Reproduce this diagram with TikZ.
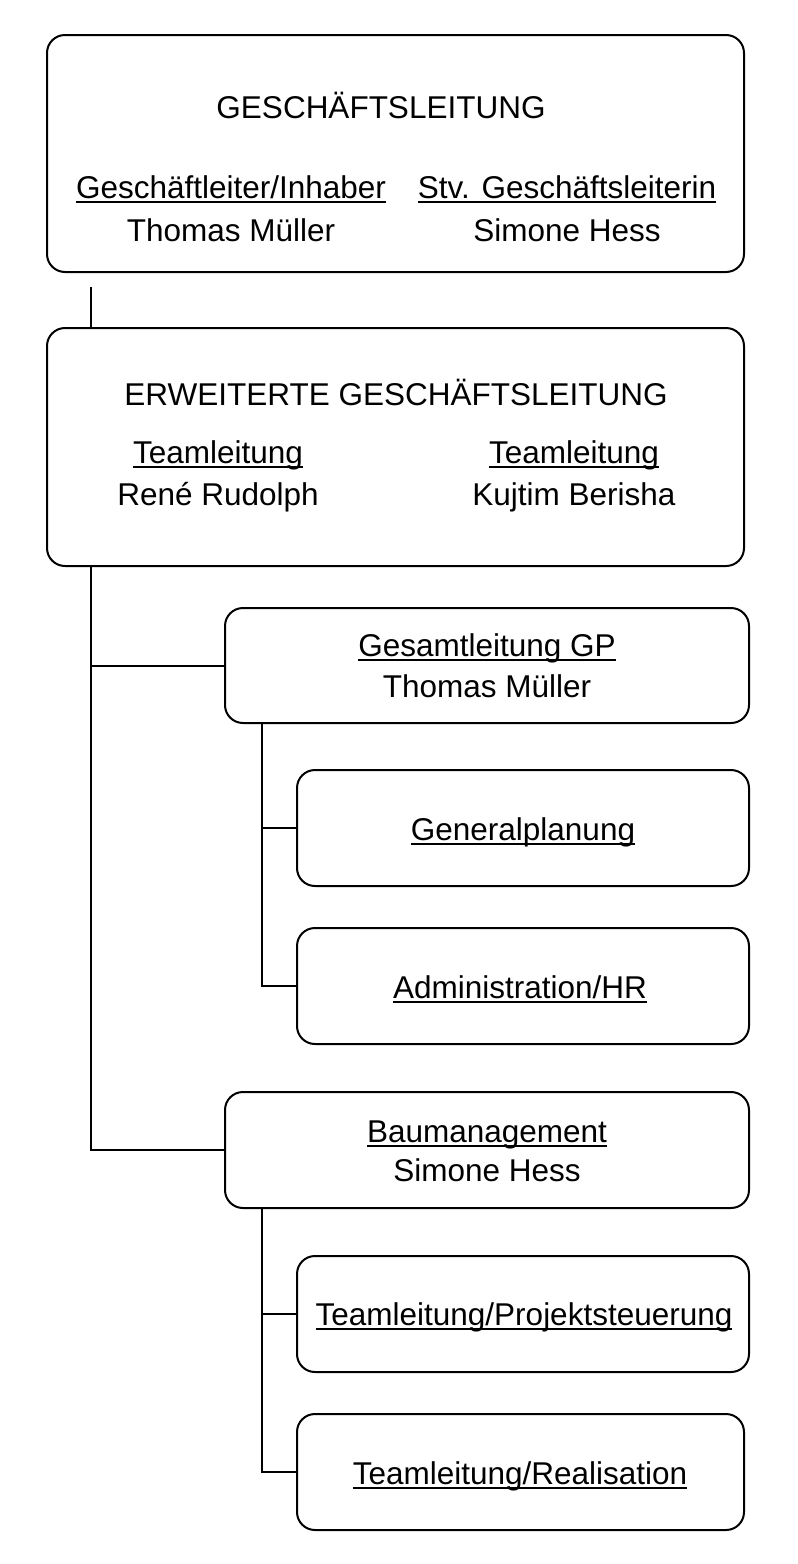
\documentclass[tikz,border=0pt]{standalone}
\usepackage{fontspec}
\setmainfont{Liberation Sans}
\newcommand\myul[1]{\setbox0\hbox{#1}\rlap{\rule[-4.5pt]{\wd0}{2pt}}\box0}
\begin{document}
\begin{tikzpicture}[x=1pt,y=-1pt,
  box/.style={draw=black,line width=2pt,rounded corners=18pt,inner sep=0pt,outer sep=0pt},
  txt/.style={anchor=base,inner sep=0pt,font=\fontsize{31.5}{38}\selectfont},
  conn/.style={draw=black,line width=2pt}]
\useasboundingbox (0,0) rectangle (798,1564);
% boxes
\node[box,minimum width=697pt,minimum height=237pt] (gl) at (395.5,153.5) {};
\node[box,minimum width=697pt,minimum height=238pt] (egl) at (395.5,447) {};
\node[box,minimum width=524pt,minimum height=115pt] (gp) at (487,665.5) {};
\node[box,minimum width=452pt,minimum height=116pt] (gen) at (523,828) {};
\node[box,minimum width=452pt,minimum height=116pt] (adm) at (523,986) {};
\node[box,minimum width=524pt,minimum height=116pt] (bm) at (487,1150) {};
\node[box,minimum width=452pt,minimum height=116pt] (tp) at (523,1314) {};
\node[box,minimum width=447pt,minimum height=116pt] (tr) at (520.5,1472) {};
% texts
\node[txt] (t1) at (381,118) {GESCHÄFTSLEITUNG};
\node[txt] (t2) at (231,198) {\myul{Geschäftleiter/Inhaber}};
\node[txt] (t3) at (231,241) {Thomas Müller};
\node[txt] (t4) at (567,198) {\myul{Stv. Geschäftsleiterin}};
\node[txt] (t5) at (567,241) {Simone Hess};
\node[txt] (t6) at (396,405) {ERWEITERTE GESCHÄFTSLEITUNG};
\node[txt] (t7) at (218,463) {\myul{Teamleitung}};
\node[txt] (t8) at (218,505) {René Rudolph};
\node[txt] (t9) at (574,463) {\myul{Teamleitung}};
\node[txt] (t10) at (574,505) {Kujtim Berisha};
\node[txt] (t11) at (487,656) {\myul{Gesamtleitung GP}};
\node[txt] (t12) at (487,697) {Thomas Müller};
\node[txt] (t13) at (523,840) {\myul{Generalplanung}};
\node[txt] (t14) at (520,998) {\myul{Administration/HR}};
\node[txt] (t15) at (487,1142) {\myul{Baumanagement}};
\node[txt] (t16) at (487,1181) {Simone Hess};
\node[txt] (t17) at (524,1325) {\myul{Teamleitung/Projektsteuerung}};
\node[txt] (t18) at (520,1484) {\myul{Teamleitung/Realisation}};
% connectors
\coordinate (c0) at (91,287);
\coordinate (trunk) at (91,0);
\coordinate (s1) at (262,0);
\draw[conn] (c0) -- (c0 |- egl.north);
\draw[conn] (egl.south -| trunk) |- (bm.west);
\draw[conn] (trunk |- gp.west) -- (gp.west);
\draw[conn] (gp.south -| s1) |- (adm.west);
\draw[conn] (s1 |- gen.west) -- (gen.west);
\draw[conn] (bm.south -| s1) |- (tr.west);
\draw[conn] (s1 |- tp.west) -- (tp.west);
\end{tikzpicture}
\end{document}
